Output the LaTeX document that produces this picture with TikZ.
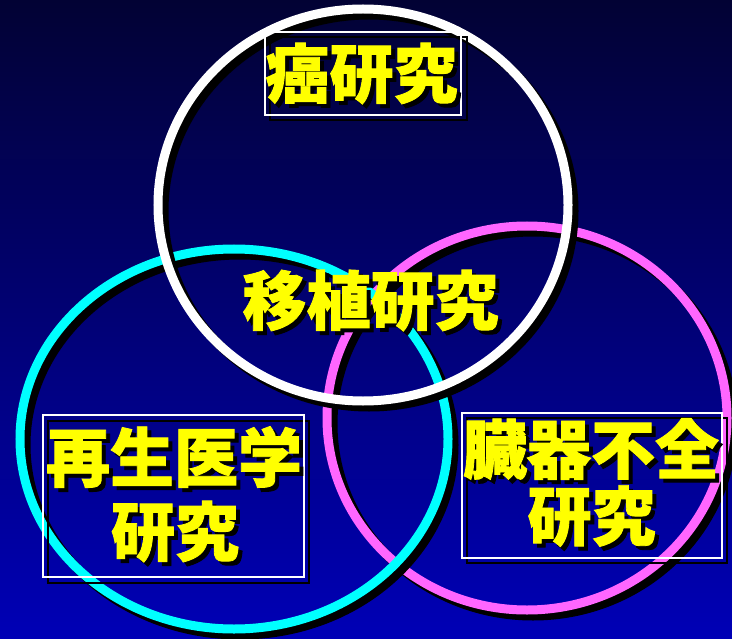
\documentclass[tikz,border=0pt]{standalone}
\usepackage{fontspec}
\newfontfamily\cjk{Noto Sans CJK JP}[BoldFeatures={FakeBold=1.3}]
\definecolor{bgtop}{HTML}{020234}
\definecolor{bgbot}{HTML}{0000B6}
\definecolor{ringcyan}{HTML}{00FFFF}
\definecolor{ringpink}{HTML}{FF66FF}
\definecolor{lblyellow}{HTML}{FFFF00}
\newcommand\shadowed[1]{\makebox[0pt][l]{\raisebox{-4bp}{\hspace*{4bp}\textcolor{black}{#1}}}#1}
\begin{document}
\begin{tikzpicture}[x=1bp,y=-1bp,
  ring/.style={line width=9bp},
  ringshadow/.style={line width=9bp, draw=black},
  lbl/.style={inner sep=0pt, font=\cjk\bfseries\fontsize{64bp}{64bp}\selectfont, text=lblyellow},
  frame/.style={draw=white, line width=2bp},
  frameshadow/.style={draw=black, line width=2bp}]
\shade[top color=bgtop, bottom color=bgbot] (0,0) rectangle (732,639);
\useasboundingbox (0,0) rectangle (732,639);
% magenta ring
\draw[ringshadow] (533,424) ellipse [x radius=200bp, y radius=192bp];
\draw[ring, draw=ringpink] (527,418) ellipse [x radius=200bp, y radius=192bp];
% cyan ring
\draw[ringshadow] (240,445) ellipse [x radius=214bp, y radius=190bp];
\draw[ring, draw=ringcyan] (234,439) ellipse [x radius=214bp, y radius=190bp];
% white ring
\draw[ringshadow] (369,211) ellipse [x radius=205bp, y radius=196bp];
\draw[ring, draw=white] (363,205) ellipse [x radius=205bp, y radius=196bp];
% frames
\draw[frameshadow] (270,37) rectangle (467,120);
\draw[frame] (265,32) rectangle (461,115);
\draw[frameshadow] (48,421) rectangle (309,583);
\draw[frame] (43,415) rectangle (304,577);
\draw[frameshadow] (467,418) rectangle (727,563);
\draw[frame] (462,413) rectangle (722,558);
% labels (black drop shadow built into each label)
\node[lbl] (cancer) at (361.5,75.5) {\shadowed{癌研究}};
\node[lbl] (trans) at (370.5,302.5) {\shadowed{移植研究}};
\node[lbl] (regena) at (174,459) {\shadowed{再生医学}};
\node[lbl] (regenb) at (175,533.5) {\shadowed{研究}};
\node[lbl] (organa) at (591,451) {\shadowed{臓器不全}};
\node[lbl] (organb) at (591.5,518) {\shadowed{研究}};
\end{tikzpicture}
\end{document}
